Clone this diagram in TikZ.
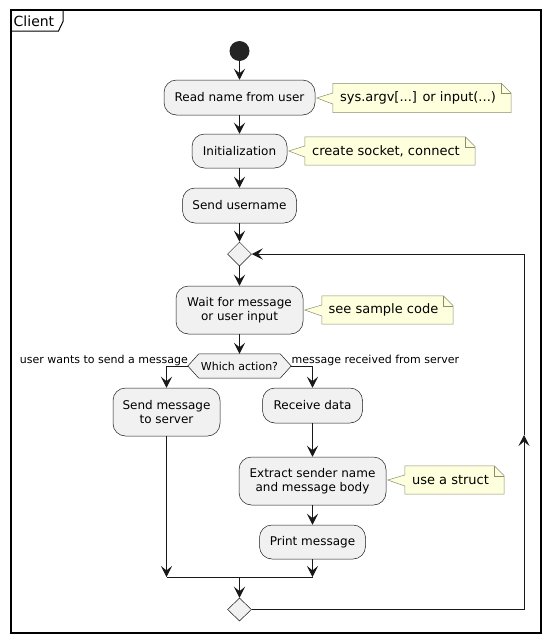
\documentclass[tikz,border=0pt]{standalone}
\usepackage{fontspec}
\setmainfont{DejaVu Sans}
\usetikzlibrary{arrows.meta,shapes.geometric,calc}

\definecolor{ink}{HTML}{181818}
\definecolor{actfill}{HTML}{F1F1F1}
\definecolor{notefill}{HTML}{FEFFDD}
\definecolor{noteline}{HTML}{8C8C6E}

\tikzset{
  activity/.style={draw=ink, line width=0.5pt, fill=actfill, rounded corners=12.5pt,
    inner sep=0pt, align=center, font=\fontsize{12}{14.5}\selectfont},
  branch/.style={draw=ink, line width=0.5pt, fill=actfill, diamond, inner sep=0pt,
    minimum width=24pt, minimum height=24pt},
  notebox/.style={inner sep=0pt, font=\fontsize{13}{15}\selectfont},
  noteshape/.style={draw=noteline, line width=0.5pt, fill=notefill, line join=miter},
  flow/.style={draw=ink, line width=1pt},
  arr/.style={flow, -{Stealth[length=11pt,width=11pt,inset=4.5pt]}},
  lbl/.style={inner sep=0pt, font=\fontsize{11}{13}\selectfont},
}

% note outline with folded corner and a pointer towards the activity #2
\newcommand{\notewithtail}[2]{%
  \path[noteshape]
    (#1.south west) -- ([yshift=-6pt]#1.west) -- ($(#2.east|-#1.west)+(1.5,0)$)
    -- ([yshift=5pt]#1.west) -- (#1.north west) -- ([xshift=-10pt]#1.north east)
    -- ([yshift=-10pt]#1.north east) -- (#1.south east) -- cycle;
  \draw[noteshape, fill=none] ([xshift=-10pt]#1.north east)
    -- ([xshift=-10pt,yshift=-10pt]#1.north east) -- ([yshift=-10pt]#1.north east);
}

\begin{document}
\begin{tikzpicture}[x=1pt,y=-1pt]
\useasboundingbox (0,0) rectangle (550,643);

% enclosing frame with its title tab
\draw[line width=1.5pt, black] (11,10) rectangle (541,633);
\draw[line width=1pt, black] (11,31) -- (58.5,31) -- (63,21.5) -- (63,10);
\node[anchor=base west, inner sep=0pt, font=\fontsize{14}{16}\selectfont] (title) at (13.5,26) {Client};

% activities
\node[circle, fill=ink!95, minimum size=20pt, inner sep=0pt] (start) at (239.5,51) {};
\node[activity, minimum width=151pt, minimum height=35pt] (read) at (239.5,97.5) {Read name from user};
\node[activity, minimum width=95pt, minimum height=34pt] (init) at (239.5,151) {Initialization};
\node[activity, minimum width=114pt, minimum height=35pt] (uname) at (239.5,205.5) {Send username};
\node[branch] (loop) at (239.5,254) {};
\node[activity, minimum width=127pt, minimum height=48pt] (wait) at (239.5,310) {Wait for message\\or user input};

% decision hexagon
\node[inner sep=0pt, minimum width=103pt, minimum height=24pt] (act) at (239.5,366) {};
\path[draw=ink, line width=0.5pt, fill=actfill]
  (act.west) -- ([xshift=11pt]act.north west) -- ([xshift=-11pt]act.north east) -- (act.east)
  -- ([xshift=-11pt]act.south east) -- ([xshift=11pt]act.south west) -- cycle;
\node[font=\fontsize{11}{13}\selectfont, inner sep=0pt] (acttext) at (act) {Which action?};

\node[activity, minimum width=107pt, minimum height=48pt] (sendmsg) at (166.5,412) {Send message\\to server};
\node[activity, minimum width=100pt, minimum height=35pt] (recv) at (312.5,405.5) {Receive data};
\node[activity, minimum width=147pt, minimum height=48pt] (extract) at (312.5,481) {Extract sender name\\and message body};
\node[activity, minimum width=106pt, minimum height=34pt] (print) at (312.5,542) {Print message};
\node[branch, minimum height=23pt] (endloop) at (239.5,609.5) {};

% notes
\node[notebox, minimum width=178pt, minimum height=29pt] (n1) at (422,98) {};
\notewithtail{n1}{read}
\node[notebox] (t1) at ([xshift=-4pt]n1.center) {sys.argv[...] or input(...)};
\node[notebox, minimum width=170pt, minimum height=28pt] (n2) at (390,151) {};
\notewithtail{n2}{init}
\node[notebox] (t2) at ([xshift=-4pt]n2.center) {create socket, connect};
\node[notebox, minimum width=131pt, minimum height=28pt] (n3) at (387.5,310) {};
\notewithtail{n3}{wait}
\node[notebox] (t3) at ([xshift=-4pt]n3.center) {see sample code};
\node[notebox, minimum width=99pt, minimum height=28pt] (n4) at (454.5,480) {};
\notewithtail{n4}{extract}
\node[notebox] (t4) at ([xshift=-4pt]n4.center) {use a struct};

% main sequence
\draw[arr] (start) -- (read);
\draw[arr] (read) -- (init);
\draw[arr] (init) -- (uname);
\draw[arr] (uname) -- (loop);
\draw[arr] (loop) -- (wait);
\draw[arr] (wait) -- (act);

% the two branches
\coordinate (lturn) at (sendmsg.north |- act.west);
\coordinate (rturn) at (recv.north |- act.east);
\draw[arr] (act.west) -- (lturn) -- (sendmsg.north);
\draw[arr] (act.east) -- (rturn) -- (recv.north);
\node[lbl, anchor=base east] (lblL) at (188,363) {user wants to send a message};
\node[lbl, anchor=base west] (lblR) at (291.5,363) {message received from server};
\draw[arr] (recv) -- (extract);
\draw[arr] (extract) -- (print);

% merge of the branches
\coordinate (mleft) at (166.5,577);
\coordinate (mright) at (312.5,577);
\coordinate (mmid) at (239.5,577);
\draw[arr] (sendmsg.south) -- (mleft);
\draw[arr] (print.south) -- (mright);
\draw[flow] (mleft) -- (mright);
\draw[arr] (mmid) -- (endloop.north);

% back edge of the loop
\coordinate (backlow) at (524,609.5);
\coordinate (backmid) at (524,435);
\coordinate (backtop) at (524,254);
\draw[arr] (endloop.east) -- (backlow) -- (backmid);
\draw[arr] (backmid) -- (backtop) -- (loop.east);
\end{tikzpicture}
\end{document}
